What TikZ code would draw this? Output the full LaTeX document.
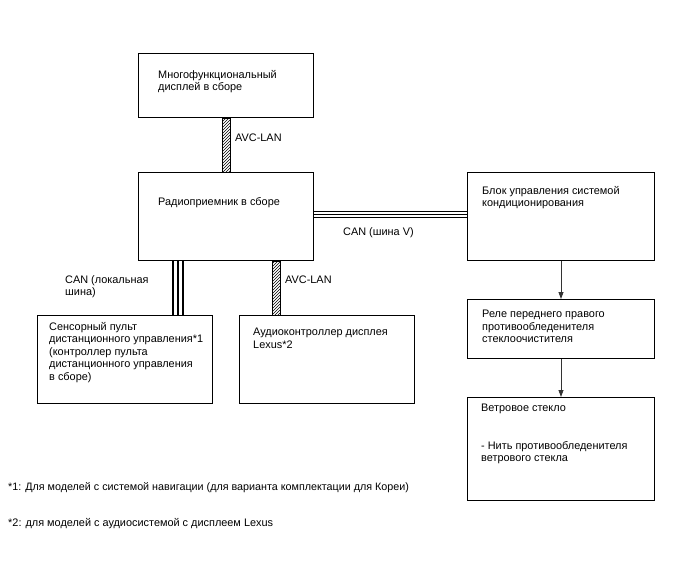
\documentclass[tikz,border=0pt]{standalone}
\usepackage{fontspec}
\setmainfont{Liberation Sans}
\usetikzlibrary{patterns,arrows.meta}

\begin{document}
\begin{tikzpicture}[
    x=1pt, y=1pt,
    unitbox/.style={draw=black, line width=1pt, inner sep=0pt, anchor=north west},
    boxtxt/.style={font=\fontsize{10.9}{12.5}\selectfont, inner sep=0pt, anchor=north west, align=left},
    buslabel/.style={font=\fontsize{10.9}{12.5}\selectfont, inner sep=0pt, anchor=base west, align=left},
    avcbus/.style={draw=black, line width=0.6pt, pattern=north east lines},
    canline/.style={black, line width=1.1pt},
    signal/.style={black!80, line width=0.8pt, -{Triangle[length=7pt, width=5pt]}},
]

\useasboundingbox (0,0) rectangle (688,-560);

% ── Units ───────────────────────────────────────────────────
\node[unitbox, minimum width=175, minimum height=64]  (disp)  at (138,-53)  {};
\node[unitbox, minimum width=175, minimum height=88]  (radio) at (138,-172) {};
\node[unitbox, minimum width=187, minimum height=88]  (clim)  at (467,-172) {};
\node[unitbox, minimum width=187, minimum height=59]  (relay) at (467,-299) {};
\node[unitbox, minimum width=187, minimum height=103] (glass) at (467,-397) {};
\node[unitbox, minimum width=175, minimum height=88]  (touch) at (37,-315)  {};
\node[unitbox, minimum width=175, minimum height=88]  (audio) at (239,-315) {};

% ── Unit texts ──────────────────────────────────────────────
\node[boxtxt] (disptxt)  at ([shift={(20,-17)}]disp.north west)
    {Многофункциональный\\дисплей в сборе};
\node[boxtxt] (radiotxt) at ([shift={(20,-25)}]radio.north west)
    {Радиоприемник в сборе};
\node[boxtxt] (climtxt)  at ([shift={(15,-14)}]clim.north west)
    {Блок управления системой\\кондиционирования};
\node[boxtxt] (relaytxt) at ([shift={(15,-11)}]relay.north west)
    {Реле переднего правого\\противообледенителя\\стеклоочистителя};
\node[boxtxt] (glasstxt) at ([shift={(14,-7)}]glass.north west)
    {Ветровое стекло\\[25pt]- Нить противообледенителя\\ветрового стекла};
\node[boxtxt] (touchtxt) at ([shift={(12,-7)}]touch.north west)
    {Сенсорный пульт\\дистанционного управления*1\\(контроллер пульта\\дистанционного управления\\в сборе)};
\node[boxtxt] (audiotxt) at ([shift={(14,-13)}]audio.north west)
    {Аудиоконтроллер дисплея\\Lexus*2};

% ── AVC-LAN buses (hatched) ─────────────────────────────────
\draw[avcbus] ([xshift=-4]disp.south) rectangle ([xshift=4]radio.north);
\draw[avcbus] ([xshift=46]radio.south) rectangle ([xshift=54]radio.south |- audio.north);

% ── CAN buses (triple line) ─────────────────────────────────
\foreach \d in {-5,0,5} {
    \draw[canline] ([xshift=\d-48]radio.south) -- ([xshift=\d-48]radio.south |- touch.north);
}
\foreach \d in {-3,0,3} {
    \draw[canline, line width=0.9pt] ([yshift=\d+2]radio.east) -- ([yshift=\d+2]radio.east -| clim.west);
}

% ── Signal arrows ───────────────────────────────────────────
\draw[signal] (clim.south) -- (relay.north);
\draw[signal] (relay.south) -- (glass.north);

% ── Bus labels ──────────────────────────────────────────────
\node[buslabel] (avcup)  at (235,-141) {AVC-LAN};
\node[buslabel] (avclow) at (285,-283) {AVC-LAN};
\node[buslabel] (canv)   at (343,-235) {CAN (шина V)};
\node[boxtxt]   (canloc) at (65,-275)  {CAN (локальная\\шина)};

% ── Footnotes ───────────────────────────────────────────────
\node[buslabel, font=\fontsize{10.75}{12.5}\selectfont] (note1) at (8,-490)
    {*1: Для моделей с системой навигации (для варианта комплектации для Кореи)};
\node[buslabel] (note2) at (8,-526)
    {*2: для моделей с аудиосистемой с дисплеем Lexus};

\end{tikzpicture}
\end{document}
